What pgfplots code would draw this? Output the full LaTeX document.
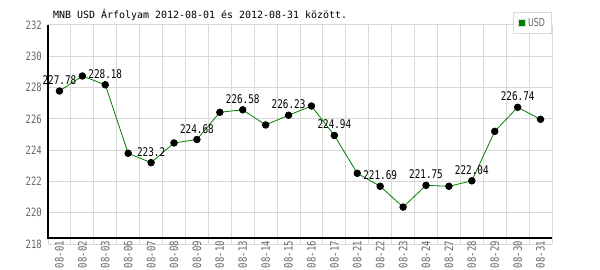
\documentclass[border=0pt]{standalone}
\usepackage{fontspec}
\setmainfont{DejaVu Sans Mono}
\newfontfamily\tallfont[FakeStretch=0.78]{DejaVu Sans Mono}
\newfontfamily\tallsans[FakeStretch=0.8]{DejaVu Sans Condensed}
\usepackage{pgfplots}
\pgfplotsset{compat=1.18}
\usepackage{pgfplotstable}
\definecolor{gridgray}{HTML}{D9D9D9}
\definecolor{tickgray}{HTML}{666666}
\definecolor{usdgreen}{HTML}{008000}

\pgfplotstableread{
x y
0 227.78
1 228.74
2 228.18
3 223.80
4 223.2
5 224.46
6 224.68
7 226.42
8 226.58
9 225.61
10 226.23
11 226.82
12 224.94
13 222.52
14 221.69
15 220.36
16 221.75
17 221.69
18 222.04
19 225.20
20 226.74
21 225.97
}\usd

\pgfplotstableread{
x y label
0 227.78 227.78
2 228.18 228.18
4 223.2 223.2
6 224.68 224.68
8 226.58 226.58
10 226.23 226.23
12 224.94 224.94
14 221.69 221.69
16 221.75 221.75
18 222.04 222.04
20 226.74 226.74
}\lbl

\begin{document}
\begin{tikzpicture}
\path[use as bounding box] (-48bp,-26bp) rectangle (552bp,244bp);
\begin{axis}[
  scale only axis, width=504bp, height=219bp,
  at={(0,0)}, anchor=south west,
  xmin=-0.5, xmax=21.5, ymin=218, ymax=232,
  xtick={0,...,21},
  xticklabels={08-01,08-02,08-03,08-06,08-07,08-08,08-09,08-10,08-13,08-14,08-15,08-16,08-17,08-21,08-22,08-23,08-24,08-27,08-28,08-29,08-30,08-31},
  minor xtick={-0.5,0.5,1.5,2.5,3.5,4.5,5.5,6.5,7.5,8.5,9.5,10.5,11.5,12.5,13.5,14.5,15.5,16.5,17.5,18.5,19.5,20.5,21.5},
  ytick={218,220,222,224,226,228,230,232},
  xmajorgrids=false, xminorgrids=true, ymajorgrids=true,
  major grid style={gridgray, line width=1bp},
  minor grid style={gridgray, line width=1bp},
  axis line style={draw=none},
  major tick length=0pt, minor tick length=0pt,
  tick label style={font=\tallfont\fontsize{11.5}{12}\selectfont, text=tickgray},
  xticklabel style={rotate=90, anchor=east, inner sep=0pt, xshift=3bp},
  yticklabel style={inner sep=0pt, xshift=-6bp},
  /pgf/number format/assume math mode=true,
  clip=false,
  legend style={at={(1,1)}, anchor=north east, yshift=12.7bp, draw=gridgray, line width=1bp,
    font=\tallsans\fontsize{11}{12}\selectfont, text=tickgray, inner xsep=4.5bp, inner ysep=3.5bp},
]
\draw[black, line width=1.4bp] (rel axis cs:0,1) -- (rel axis cs:0,0.0274) -- (rel axis cs:1,0.0274);
\node[anchor=base west, xshift=5bp, yshift=6.5bp, inner sep=0pt, font=\fontsize{10}{11}\selectfont] at (rel axis cs:0,1) {MNB USD Árfolyam 2012-08-01 és 2012-08-31 között.};
\addplot[draw=none, forget plot, nodes near coords, point meta=explicit symbolic,
  every node near coord/.append style={anchor=base, inner sep=0pt, yshift=6.5bp, font=\tallfont\fontsize{12}{13}\selectfont, text=black}]
  table[x=x, y=y, meta=label] {\lbl};
\addplot[usdgreen, line width=0.8bp, mark=*, mark size=3.3bp, mark options={fill=black, draw=black}, forget plot]
  table[x=x, y=y] {\usd};
\addlegendimage{legend image code/.code={\draw[fill=usdgreen, draw=gridgray, line width=0.8bp] (0bp,-3.5bp) rectangle (7bp,3.5bp);}}
\addlegendentry{USD}
\end{axis}
\end{tikzpicture}
\end{document}
